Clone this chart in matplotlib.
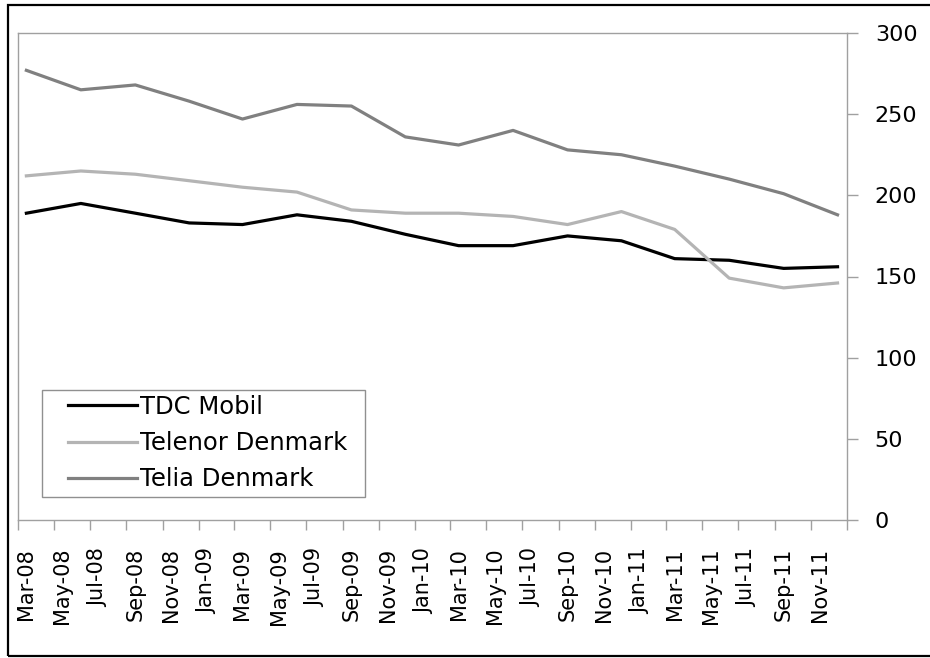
import matplotlib
matplotlib.use("Agg")
import matplotlib.pyplot as plt
import matplotlib.dates as mdates
import matplotlib.patches as mpatches
import pandas as pd

# ---- data ----
quarters = ["2008-03", "2008-06", "2008-09", "2008-12",
            "2009-03", "2009-06", "2009-09", "2009-12",
            "2010-03", "2010-06", "2010-09", "2010-12",
            "2011-03", "2011-06", "2011-09", "2011-12"]
series_names = ["TDC Mobil", "Telenor Denmark", "Telia Denmark"]
tdc = [189, 195, 189, 183, 182, 188, 184, 176, 169, 169, 175, 172, 161, 160, 155, 156]
telenor = [212, 215, 213, 209, 205, 202, 191, 189, 189, 187, 182, 190, 179, 149, 143, 146]
telia = [277, 265, 268, 258, 247, 256, 255, 236, 231, 240, 228, 225, 218, 210, 201, 188]
y_ticks = [0, 50, 100, 150, 200, 250, 300]

plt.rcParams['font.family'] = ['DejaVu Sans']

W, H = 930, 658
fig = plt.figure(figsize=(W / 100, H / 100), dpi=100)
left, right, top, bottom = 17.5, 847, 33, 520
ax = fig.add_axes([left / W, 1 - bottom / H, (right - left) / W, (bottom - top) / H])

x = pd.to_datetime(quarters) + pd.Timedelta(days=15)

colors = ["#000000", "#b4b4b4", "#808080"]
for vals, name, c in zip([tdc, telenor, telia], series_names, colors):
    ax.plot(x, vals, color=c, lw=2.3, label=name)

ax.set_xlim(pd.Timestamp("2008-03-01"), pd.Timestamp("2012-01-01"))
ax.set_ylim(0, 300)

spine_c = "#a0a0a0"
for s in ax.spines.values():
    s.set_color(spine_c)
    s.set_linewidth(1.0)

# y axis on right
ax.yaxis.tick_right()
ax.set_yticks(y_ticks)
ax.tick_params(axis='y', which='major', direction='out', length=8, width=1,
               color=spine_c, pad=12, labelsize=16, labelcolor='black')

# x axis: ticks at month starts, labels at mid-month
ax.xaxis.set_major_locator(mdates.MonthLocator(bymonth=[1, 3, 5, 7, 9, 11], bymonthday=1))
ax.xaxis.set_major_formatter(plt.NullFormatter())
ax.xaxis.set_minor_locator(mdates.MonthLocator(bymonth=[1, 3, 5, 7, 9, 11], bymonthday=16))
ax.xaxis.set_minor_formatter(mdates.DateFormatter('%b-%y'))
ax.tick_params(axis='x', which='major', direction='out', length=7, width=1, color=spine_c)
ax.tick_params(axis='x', which='minor', length=0, pad=20, labelsize=15, labelrotation=90)

# legend (no frame; frame drawn separately)
fs_leg = 17.5
fs_px = fs_leg * 100 / 72
leg = ax.legend(loc='upper left', bbox_to_anchor=(68 / W, 1 - 395 / H),
                bbox_transform=fig.transFigure, borderaxespad=0, borderpad=0,
                fontsize=fs_leg, frameon=False, handlelength=69 / fs_px,
                handletextpad=0.12, labelspacing=0.5)

fig.patches.append(mpatches.Rectangle((42 / W, 1 - 497 / H), 323 / W, 107 / H,
                                      transform=fig.transFigure, fill=False,
                                      edgecolor="#909090", lw=1.0))

# outer border
fig.patches.append(mpatches.Rectangle((8 / W, 2 / H), 1.0, 651 / H, transform=fig.transFigure,
                                      fill=False, edgecolor='black', lw=1.6))

fig.savefig("out.png", dpi=100)
